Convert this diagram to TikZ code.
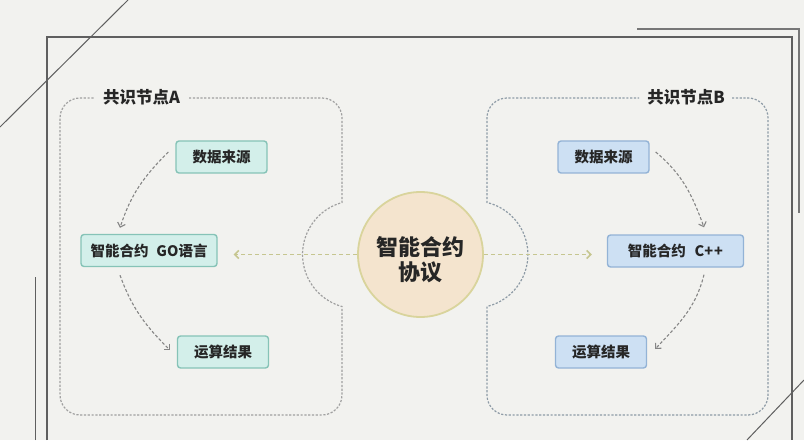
\documentclass[tikz,border=0pt]{standalone}
\usepackage{fontspec}
\setmainfont{Noto Sans CJK SC}
\usetikzlibrary{arrows.meta}

\definecolor{bgpaper}{HTML}{F2F2EF}
\definecolor{framegray}{HTML}{5F5F5F}
\definecolor{boxAline}{HTML}{A0A0A0}
\definecolor{boxBline}{HTML}{8E9BA6}
\definecolor{tealfill}{HTML}{D3EFEA}
\definecolor{tealline}{HTML}{86C3B7}
\definecolor{bluefill}{HTML}{CDE0F3}
\definecolor{blueline}{HTML}{93B3D6}
\definecolor{peachfill}{HTML}{F4E4CE}
\definecolor{peachline}{HTML}{D9D49C}
\definecolor{oliveline}{HTML}{C6C690}
\definecolor{flowgray}{HTML}{858585}
\definecolor{inkgray}{HTML}{262626}

\tikzset{
	stage/.style={rectangle, rounded corners=3pt, line width=1.4pt, minimum height=32pt,
		inner xsep=6pt, font=\bfseries\fontsize{14.5}{16}\selectfont, text=inkgray},
	stageA/.style={stage, fill=tealfill, draw=tealline},
	stageB/.style={stage, fill=bluefill, draw=blueline},
	nodebox/.style={dash pattern=on 2.2pt off 1.6pt, line width=1.2pt},
	flow/.style={draw=flowgray, line width=1.1pt, dash pattern=on 3pt off 2pt,
		-{Straight Barb[length=4pt,width=8pt]}},
	protoflow/.style={draw=oliveline, line width=1.5pt, dash pattern=on 4pt off 3pt,
		-{Straight Barb[length=4pt,width=8pt]}},
	title/.style={font=\bfseries\fontsize{16.5}{18}\selectfont, text=inkgray, inner sep=0pt}
}

\begin{document}
\begin{tikzpicture}[x=1pt,y=1pt]
		\fill[bgpaper] (0,0) rectangle (804,440);
		\useasboundingbox (0,0) rectangle (804,440);
		% frame lines
		\draw[framegray, line width=1.3pt] (47,0) -- (47,403) -- (792,403) -- (792,0);
		\draw[framegray!85, line width=1.2pt] (637,411) -- (799,411) -- (799,227);
		\draw[framegray, line width=1pt] (35,0) -- (35,163);
		\draw[framegray, line width=1pt] (0,313) -- (128,440);
		\draw[framegray, line width=1pt] (747,0) -- (804,60);
		% consensus nodes
		\node[title] (titleA) at (141.5,343) {共识节点A};
		\node[title] (titleB) at (686,343) {共识节点B};
		\draw[boxAline, nodebox] (189,342) -- (322,342) arc[start angle=90,end angle=0,radius=20]
			-- (342,237.5) arc[start angle=105.6,end angle=254.4,radius=54]
			-- (342,45) arc[start angle=0,end angle=-90,radius=20]
			-- (80,25) arc[start angle=-90,end angle=-180,radius=20]
			-- (60,322) arc[start angle=180,end angle=90,radius=20] -- (95,342);
		\draw[boxBline, nodebox] (732,342) -- (748,342) arc[start angle=90,end angle=0,radius=20]
			-- (768,45) arc[start angle=0,end angle=-90,radius=20]
			-- (507,25) arc[start angle=-90,end angle=-180,radius=20]
			-- (487,133.5) arc[start angle=-76.4,end angle=76.4,radius=53.5]
			-- (487,322) arc[start angle=180,end angle=90,radius=20] -- (639,342);
		% protocol
		\node[circle, minimum size=125pt, fill=peachfill, draw=peachline, line width=1.8pt]
			(pact) at (420.5,185.5) {};
		\node[align=center, text=inkgray, font=\bfseries\fontsize{22}{25}\selectfont]
			(pacttext) at ([yshift=-5pt]pact.center) {智能合约\\协议};
		% stages
		\node[stageA, minimum width=91pt] (srcA) at (221.5,283) {数据来源};
		\node[stageA, minimum width=136pt] (goA) at (149,189.5) {智能合约\hspace{0.55em}GO语言};
		\node[stageA, minimum width=91pt] (resA) at (223,88) {运算结果};
		\node[stageB, minimum width=91pt] (srcB) at (603.5,283) {数据来源};
		\node[stageB, minimum width=136pt] (cppB) at (675.5,189) {智能合约\hspace{0.6em}C+\kern1pt+};
		\node[stageB, minimum width=91pt] (resB) at (601,88) {运算结果};
		% arrows
		\draw[protoflow, shorten >=16pt] (pact.west) -- (pact.west -| goA.east);
		\draw[protoflow, shorten >=15pt] (pact.east) -- (pact.east -| cppB.west);
		\draw[flow] ([shift={(-7pt,5pt)}]srcA.west) to[out=-135,in=72] ([shift={(-29pt,6pt)}]goA.north);
		\draw[flow] ([shift={(-29pt,-8pt)}]goA.south) to[out=-70,in=135] ([shift={(-7pt,2pt)}]resA.west);
		\draw[flow] ([shift={(6pt,5pt)}]srcB.east) to[out=-40,in=110] ([shift={(28.5pt,7pt)}]cppB.north);
		\draw[flow] ([shift={(28.5pt,-7pt)}]cppB.south) to[out=-104,in=47] ([shift={(8pt,3pt)}]resB.east);
	\end{tikzpicture}
\end{document}
